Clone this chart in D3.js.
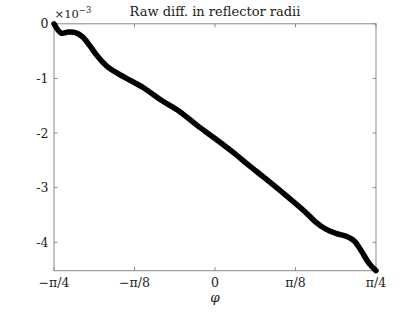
<!DOCTYPE html>
<html><head><meta charset="utf-8">
<script src="https://cdn.jsdelivr.net/npm/d3@7"></script>
<style>body{margin:0;background:#fff;} text{font-family:"DejaVu Serif","Liberation Serif",serif;fill:#222;}</style>
</head><body>
<svg id="c" width="415" height="312"></svg>
<script>
// phi in degrees, value in units of 1e-3
const phiDeg = [-45,-43,-41,-39,-37,-35,-33,-30,-25,-20,-15,-10,-5,0,5,10,15,20,25,28,31,34,37,39,41,43,45];
const diffVals = [0,-0.17,-0.15,-0.16,-0.24,-0.40,-0.58,-0.79,-0.99,-1.17,-1.40,-1.60,-1.86,-2.10,-2.35,-2.62,-2.88,-3.15,-3.43,-3.62,-3.76,-3.84,-3.90,-3.98,-4.17,-4.38,-4.52];
const xTickVals = [-45,-22.5,0,22.5,45];
const xTickLabels = ["\u2212\u03c0/4","\u2212\u03c0/8","0","\u03c0/8","\u03c0/4"];
const yTickVals = [0,-1,-2,-3,-4];
const yTickLabels = ["0","-1","-2","-3","-4"];
const title = "Raw diff. in reflector radii";

const svg = d3.select("#c");
const L=54,R=376,T=23.8,B=270.7;
const x = d3.scaleLinear().domain([-45,45]).range([L,R]);
const y = d3.scaleLinear().domain([-4.52,0]).range([B,T]);
const axc="#8a8a8a";
svg.append("rect").attr("x",L).attr("y",T).attr("width",R-L).attr("height",B-T).attr("fill","none").attr("stroke",axc).attr("stroke-width",1);
xTickVals.forEach((v,i)=>{
  svg.append("line").attr("x1",x(v)).attr("x2",x(v)).attr("y1",B).attr("y2",B-3.5).attr("stroke",axc);
  svg.append("line").attr("x1",x(v)).attr("x2",x(v)).attr("y1",T).attr("y2",T+3.5).attr("stroke",axc);
  svg.append("text").attr("x",x(v)).attr("y",B+16).attr("text-anchor","middle").attr("font-size",12.5).text(xTickLabels[i]);
});
yTickVals.forEach((v,i)=>{
  svg.append("line").attr("x1",L).attr("x2",L+3.5).attr("y1",y(v)).attr("y2",y(v)).attr("stroke",axc);
  svg.append("line").attr("x1",R).attr("x2",R-3.5).attr("y1",y(v)).attr("y2",y(v)).attr("stroke",axc);
  svg.append("text").attr("x",L-5.5).attr("y",y(v)+4.5).attr("text-anchor","end").attr("font-size",12.5).text(yTickLabels[i]);
});
const ex = svg.append("text").attr("x",L+0.5).attr("y",17.5).attr("font-size",11.5);
ex.append("tspan").text("\u00d710");
ex.append("tspan").attr("dy",-5).attr("font-size",8.5).text("\u22123");
svg.append("text").attr("x",(L+R)/2).attr("y",16).attr("text-anchor","middle").attr("font-size",13).text(title);
svg.append("text").attr("x",(L+R)/2).attr("y",B+31).attr("text-anchor","middle").attr("font-size",13.5).attr("font-style","italic").text("\u03c6");
const line = d3.line().x((d,i)=>x(phiDeg[i])).y(d=>y(d)).curve(d3.curveCatmullRom.alpha(0.5));
svg.append("path").datum(diffVals).attr("d",line).attr("fill","none").attr("stroke","#000").attr("stroke-width",5.5).attr("stroke-linecap","round").attr("stroke-linejoin","round");
</script>
</body></html>
